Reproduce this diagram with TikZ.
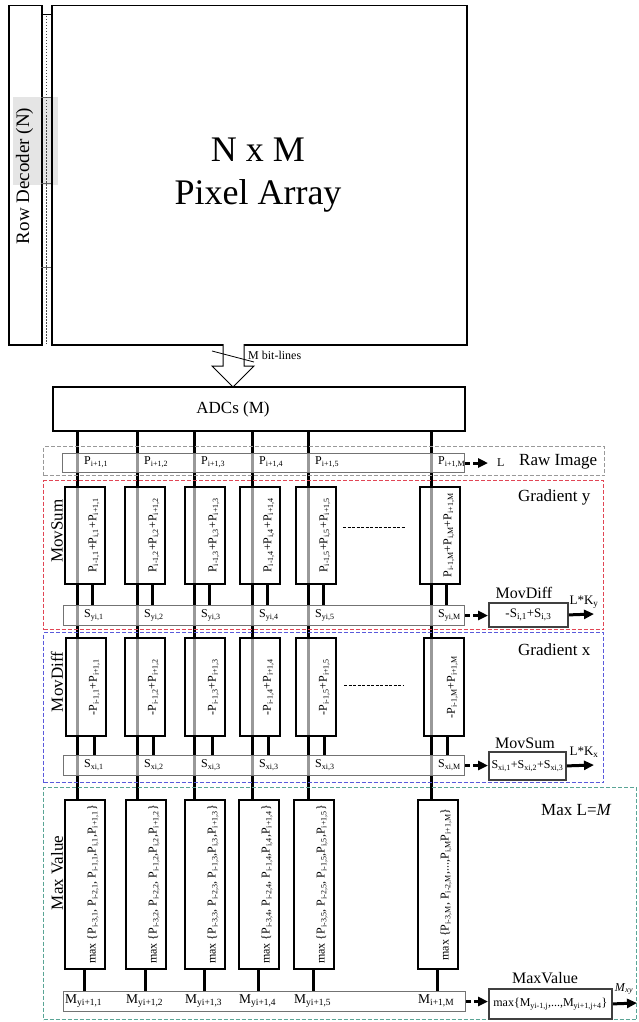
\documentclass[tikz,border=0pt]{standalone}
\usepackage{fontspec}
\setmainfont{Liberation Serif}
\usetikzlibrary{arrows.meta}
\pgfdeclarelayer{bgg}
\pgfdeclarelayer{bg}
\pgfsetlayers{bgg,bg,main}
\newcommand{\fsz}[1]{\fontsize{#1}{#1}\selectfont}
\newcommand{\sbs}[1]{\textsubscript{#1}}
\begin{document}
\begin{tikzpicture}[x=1pt,y=-1pt,
  colline/.style={line width=3pt,black},
  outl/.style={draw=black,line width=1.5pt,inner sep=0pt,anchor=north west},
  vbox/.style={draw=black,line width=1.8pt,inner sep=0pt,fill=white,fill opacity=0.6,text opacity=1,minimum width=40pt,anchor=north west},
  mbox/.style={draw=black,line width=1.8pt,inner sep=0pt,fill=white,minimum width=40pt,anchor=north west},
  rowbox/.style={draw=black!55,line width=1pt,inner sep=0pt,fill=white,fill opacity=0.6,text opacity=1,anchor=north west},
  fbox/.style={draw=black!75,line width=1.8pt,inner sep=0pt,fill=white,anchor=north west},
  grp/.style={dash pattern=on 4pt off 2pt,line width=1.2pt,inner sep=0pt,anchor=north west},
  lab/.style={inner sep=0pt,font=\fsz{12}},
  rlab/.style={inner sep=0pt,font=\fsz{12},rotate=90},
  big/.style={inner sep=0pt,font=\fsz{17}},
  mid/.style={inner sep=0pt,font=\fsz{16}},
  inarrow/.style={line width=3pt,dash pattern=on 5pt off 3pt on 40pt,-{Triangle[length=10pt,width=9pt]}},
  outarrow/.style={line width=3pt,-{Triangle[length=10pt,width=9pt]}},
  sep/.style={dash pattern=on 3pt off 1.5pt,line width=1pt}
]
\useasboundingbox (0,0) rectangle (638,1022);

% ---------- top: decoder and pixel array
\node[outl,minimum width=33pt,minimum height=339pt] (rd) at (8,5) {};
\node[outl,minimum width=415pt,minimum height=339pt] (pa) at (51,5) {};
\begin{pgfonlayer}{bgg}
  \fill[black!10] (13,97) rectangle (58,185);
\end{pgfonlayer}
\draw[line width=1pt] (41,15) -- (51,15);
\foreach \yy in {97,183,267} \draw[line width=0.8pt,black!60] (41,\yy) -- (51,\yy);
\draw[line width=0.8pt,black!70,dash pattern=on 1.5pt off 1.5pt] (46,16) -- (46,344);
\node[inner sep=0pt,font=\fsz{19},rotate=90] (rdt) at (24.5,176) {Row Decoder (N)};
\node[inner sep=0pt,font=\fsz{36}] (t1) at (258,150) {N x M};
\node[inner sep=0pt,font=\fsz{36}] (t2) at (258,196) {Pixel Array};

% ---------- bit-lines block arrow
\draw[line width=1pt,fill=white] (223,344) -- (223,366) -- (212,366) -- (233,387) -- (254,366) -- (244,366) -- (244,344);
\draw[line width=0.8pt] (212,351) -- (254,362);
\node[lab,anchor=west] (bl) at (248,355) {M bit-lines};

% ---------- ADC
\node[outl,minimum width=412pt,minimum height=44pt] (adc) at (52,386) {};
\node[big] (adct) at (233,409) {ADCs (M)};

% ---------- dashed groups
\node[grp,draw=black!40,minimum width=561pt,minimum height=29pt] (rawg) at (43,446) {};
\node[grp,draw={rgb,255:red,225;green,70;blue,85},minimum width=560pt,minimum height=149pt] (grady) at (43,480) {};
\node[grp,draw={rgb,255:red,90;green,90;blue,220},minimum width=560pt,minimum height=150pt] (gradx) at (43,632) {};
\node[grp,draw={rgb,255:red,90;green,165;blue,150},minimum width=593pt,minimum height=232pt] (maxg) at (43,787) {};

% ---------- rows
\node[rowbox,minimum width=402pt,minimum height=19pt] (praw) at (62,453) {};
\node[rowbox,minimum width=401pt,minimum height=20pt] (sy) at (63,605) {};
\node[rowbox,minimum width=401pt,minimum height=20pt] (sx) at (63,755) {};
\node[rowbox,minimum width=402pt,minimum height=20pt] (mrow) at (63,991) {};

% ---------- columns
\foreach \i/\m/\a/\s/\b/\d/\c/\x/\y in {1/77/64/92/65/94/64/1/{yi+1,1}, 2/137/124/152/124/153/125/2/{yi+1,2}, 3/194/184/209/184/212/184/3/{yi+1,3}, 4/252/239/267/239/268/238/3/{yi+1,4}, 5/308/295/323/295/324/293/3/{yi+1,5}, M/431/419/446/423/447/417/M/{i+1,M}}{
  \coordinate (cm\i) at (\m,0);
  \coordinate (cs\i) at (\s,0);
  \coordinate (cd\i) at (\d,0);
  \node[vbox,minimum height=97pt] (ms\i) at (\a,486) {};
  \node[vbox,minimum height=98pt] (md\i) at (\b,637) {};
  \node[mbox,minimum height=169pt] (mx\i) at (\c,799) {};
  \node[rlab] (msl\i) at ([xshift=9pt]ms\i.center) {P\sbs{i-1,\i}+P\sbs{i,\i}+P\sbs{i+1,\i}};
  \node[rlab] (mdl\i) at ([xshift=8.5pt]md\i.center) {-P\sbs{i-1,\i}+P\sbs{i+1,\i}};
  \node[lab,anchor=west] (pl\i) at ({\m+7},462.5) {P\sbs{i+1,\i}};
  \node[lab,anchor=west] (syl\i) at ({\m+7},615) {S\sbs{yi,\i}};
  \node[lab,anchor=west] (sxl\i) at ({\m+7},765) {S\sbs{xi,\x}};
  \node[inner sep=0pt,font=\fsz{13.5},anchor=west] (mrl\i) at ({\c+1},1001) {M\sbs{\y}};
  \begin{pgfonlayer}{bg}
    \draw[colline] (cm\i |- adc.south) -- (cm\i |- mx\i.north);
    \draw[colline] (cs\i |- ms\i.south) -- (cs\i |- sy.north);
    \draw[colline] (cd\i |- md\i.south) -- (cd\i |- sx.north);
    \draw[colline] (mx\i.south) -- (mx\i.south |- mrow.north);
  \end{pgfonlayer}
}
\foreach \i in {1,2,3,4,5}{
  \node[rlab] (mxl\i) at ([xshift=8pt]mx\i.center) {max \{P\sbs{i-3,\i}, P\sbs{i-2,\i}, P\sbs{i-1,\i},P\sbs{i,\i},P\sbs{i+1,\i}\}};
}
\node[rlab] (mxlM) at ([xshift=8pt]mxM.center) {max \{P\sbs{i-3,M}, P\sbs{i-2,M},...,P\sbs{i,M}P\sbs{i+1,M}\}};

\draw[sep] (343,527) -- (405,527);
\draw[sep] (344,685) -- (404,685);

% ---------- side labels
\node[big,rotate=90] (lms) at (57,531) {MovSum};
\node[big,rotate=90] (lmd) at (57,682) {MovDiff};
\node[big,rotate=90] (lmv) at (57,873) {Max Value};
\node[big,anchor=west] (lraw) at (519,462) {Raw Image};
\node[big,anchor=west] (lgy) at (518,497) {Gradient y};
\node[big,anchor=west] (lgx) at (518,650) {Gradient x};
\node[big,anchor=west] (lmax) at (541,810) {Max L=\textit{M}};

% ---------- function boxes
\node[fbox,minimum width=79pt,minimum height=24pt,font=\fsz{13}] (fy) at (488,602) {-S\sbs{i,1}+S\sbs{i,3}};
\node[fbox,minimum width=77pt,minimum height=28pt,font=\fsz{12}] (fx) at (488,751) {S\sbs{xi,1}+S\sbs{xi,2}+S\sbs{xi,3}};
\node[fbox,minimum width=123pt,minimum height=30pt,font=\fsz{12}] (fm) at (488,988) {max\{M\sbs{yi-1,j},...,M\sbs{yi+1,j+4}\}};
\node[mid] (lfy) at (524,593) {MovDiff};
\node[mid] (lfx) at (525,743) {MovSum};
\node[mid] (lfm) at (545,978) {MaxValue};

% ---------- arrows
\node[inner sep=0pt,font=\fsz{12},anchor=west] (lL) at (497,463) {L};
\draw[inarrow] (praw.east) -- (praw.east -| lL.west) [shorten >=9pt];
\draw[inarrow] (sy.east) -- (sy.east -| fy.west);
\draw[inarrow] (sx.east) -- (sx.east -| fx.west);
\draw[inarrow] (mrow.east) -- (mrow.east -| fm.west);
\coordinate (oy) at (594,614);
\coordinate (ox) at (594,765);
\coordinate (om) at (637,1003);
\draw[outarrow] (fy.east) -- (oy);
\draw[outarrow] (fx.east) -- (ox);
\draw[outarrow] (fm.east) -- (om);
\node[inner sep=0pt,font=\fsz{13}] (lky) at (584,602) {L*K\sbs{y}};
\node[inner sep=0pt,font=\fsz{13}] (lkx) at (584,752) {L*K\sbs{x}};
\node[inner sep=0pt,font=\fsz{12}] (lmxy) at (624,989) {\textit{M}\sbs{\textit{xy}}};
\end{tikzpicture}
\end{document}
